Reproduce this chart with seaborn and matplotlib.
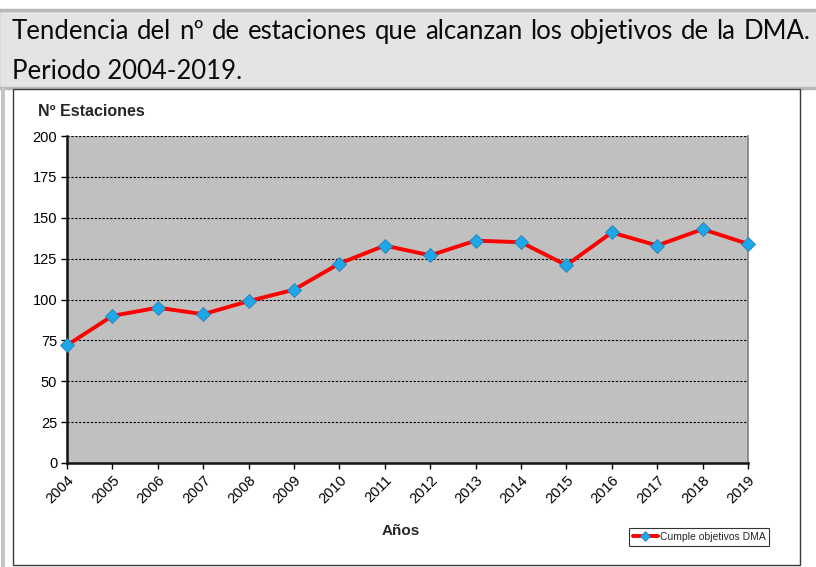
import matplotlib
matplotlib.use("Agg")
import matplotlib.pyplot as plt
from matplotlib.patches import Rectangle
from matplotlib.lines import Line2D
import seaborn as sns
import pandas as pd

# Data: stations meeting the DMA objectives per year
years = [2004, 2005, 2006, 2007, 2008, 2009, 2010, 2011,
         2012, 2013, 2014, 2015, 2016, 2017, 2018, 2019]
estaciones = [72, 90, 95, 91, 99, 106, 122, 133,
              127, 136, 135, 121, 141, 133, 143, 134]
series_label = "Cumple objetivos DMA"
y_ticks = [0, 25, 50, 75, 100, 125, 150, 175, 200]

title_line1 = "Tendencia del nº de estaciones que alcanzan los objetivos de la DMA."
title_line2 = "Periodo 2004-2019."

df = pd.DataFrame({"Año": years, "Estaciones": estaciones})

sns.set_theme(style="white")
plt.rcParams["font.family"] = ["Liberation Sans", "DejaVu Sans"]

W, H = 816, 567
fig = plt.figure(figsize=(W / 100, H / 100), dpi=100)
fig.patch.set_facecolor("white")


def fx(px):
    return px / W


def fy(py):
    return 1 - py / H


# Title band
fig.patches.append(Rectangle((fx(-2), fy(88)), fx(W + 4), fy(10) - fy(88),
                             transform=fig.transFigure, facecolor="#e4e4e4",
                             edgecolor="#b8b8b8", lw=2.5, zorder=0))
# Light grey left margin strip
fig.patches.append(Rectangle((fx(1), 0), fx(4), fy(88),
                             transform=fig.transFigure, facecolor="#c4c4c4",
                             edgecolor="none", zorder=0))
# Chart frame
fig.patches.append(Rectangle((fx(13), fy(565)), fx(800 - 13), fy(89) - fy(565),
                             transform=fig.transFigure, facecolor="white",
                             edgecolor="#3a3a3a", lw=1.0, zorder=0))

# Justified first title line
title_font = dict(family=["Lato", "DejaVu Sans"], fontsize=18.5, color="#0a0a0a")
words = title_line1.split(" ")
x_left, x_right = fx(12), fx(810)
y1 = fy(39)
renderer = fig.canvas.get_renderer()
texts = [fig.text(0, y1, w, va="baseline", ha="left", **title_font) for w in words]
widths = [t.get_window_extent(renderer).width / W for t in texts]
gap = (x_right - x_left - sum(widths)) / (len(words) - 1)
xpos = x_left
for t, wdt in zip(texts, widths):
    t.set_x(xpos)
    xpos += wdt + gap
fig.text(x_left, fy(79), title_line2, va="baseline", ha="left", **title_font)

# Plot area
ax = fig.add_axes([fx(67), fy(463), fx(748 - 67), fy(136) - fy(463)])
ax.set_zorder(3)
ax.set_facecolor("#c0c0c0")

sns.lineplot(data=df, x="Año", y="Estaciones", ax=ax, color="#ff0000",
             lw=2.8, marker="D", markersize=7, markerfacecolor="#1ea7e8",
             markeredgecolor="#2a7fb5", markeredgewidth=0.6,
             label=series_label, legend=False, zorder=5, clip_on=False)

ax.set_xlim(years[0], years[-1])
ax.set_ylim(0, 200)
ax.set_yticks(y_ticks)
ax.set_xticks(years)
ax.set_xticklabels([str(y) for y in years], rotation=45, ha="right",
                   rotation_mode="anchor", fontsize=10.5)
ax.set_yticklabels([str(v) for v in y_ticks], fontsize=10.5)
ax.tick_params(axis="both", direction="out", length=4, width=1, color="black",
               bottom=True, left=True, pad=3, labelcolor="black")

for v in y_ticks[1:]:
    ax.axhline(v, color="black", lw=0.8, ls=(0, (2, 1.5)), zorder=1)

ax.spines["left"].set_color("#111111")
ax.spines["left"].set_linewidth(1.8)
ax.spines["bottom"].set_color("#111111")
ax.spines["bottom"].set_linewidth(1.8)
ax.spines["right"].set_color("#808080")
ax.spines["right"].set_linewidth(1.2)
ax.spines["top"].set_visible(False)

ax.set_xlabel("")
ax.set_ylabel("")
fig.text(fx(38), fy(111), "Nº Estaciones", fontsize=11.5, fontweight="bold",
         va="center", ha="left", zorder=4)
fig.text(fx(401), fy(531), "Años", fontsize=11, fontweight="bold",
         va="center", ha="center", zorder=4)

handle = Line2D([], [], color="#ff0000", lw=2.8, marker="D", markersize=5,
                markerfacecolor="#1ea7e8", markeredgecolor="#2a7fb5",
                markeredgewidth=0.5)
leg = fig.legend([handle], [series_label], loc="center",
                 bbox_to_anchor=(fx(699), fy(537)), fontsize=7.5,
                 frameon=True, fancybox=False, edgecolor="black",
                 handlelength=2.4, handletextpad=0.2, borderpad=0.35,
                 borderaxespad=0)
leg.set_zorder(4)
leg.get_frame().set_linewidth(0.8)

fig.savefig("out.png", dpi=100)
